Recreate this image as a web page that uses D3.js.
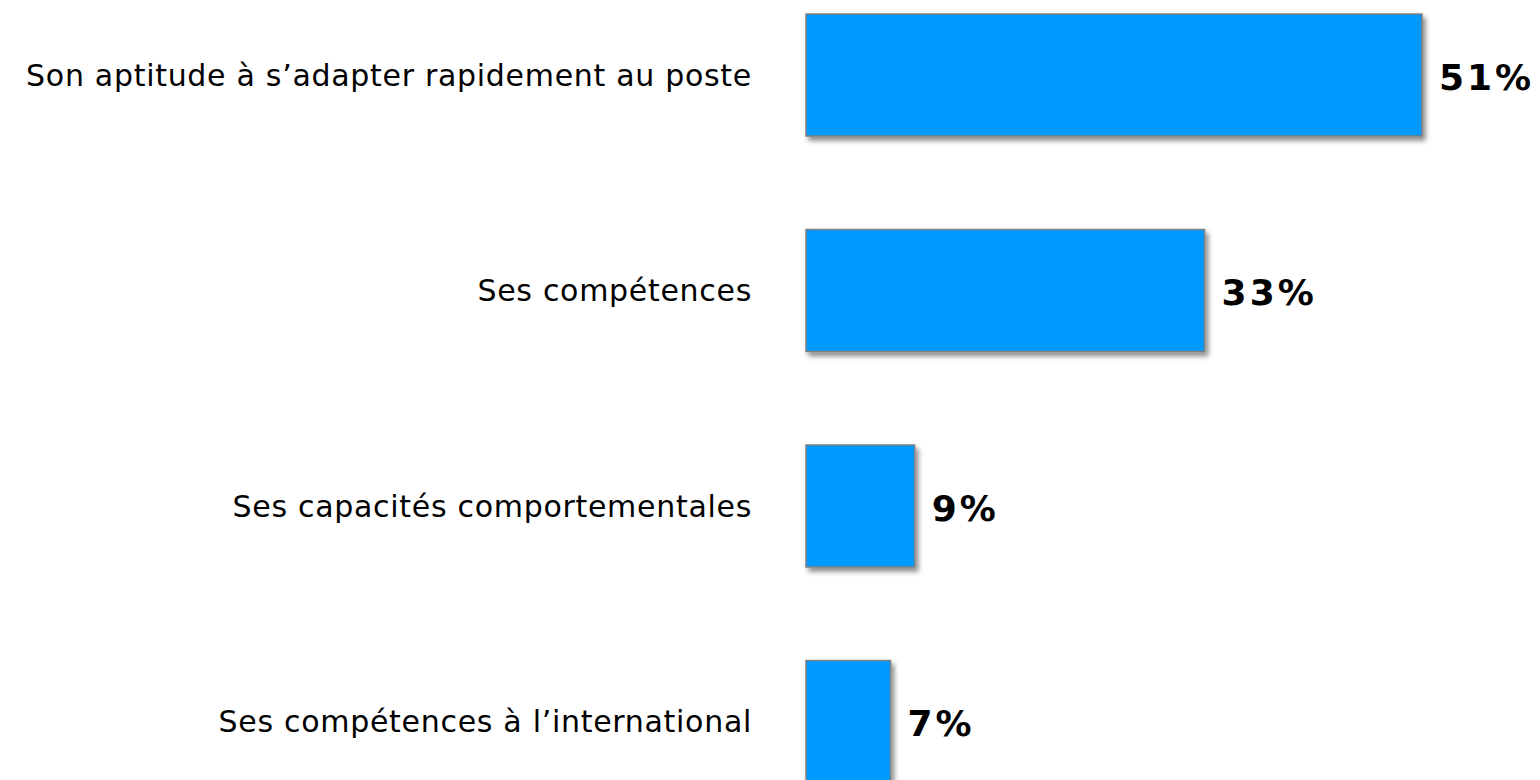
<!DOCTYPE html>
<html><head><meta charset="utf-8">
<script src="https://cdn.jsdelivr.net/npm/d3@7"></script>
<style>body{margin:0;background:#fff;}svg{display:block;}</style>
</head><body>
<svg id="c" width="1540" height="780"></svg>
<script>
const categories = ["Son aptitude à s’adapter rapidement au poste","Ses compétences","Ses capacités comportementales","Ses compétences à l’international"];
const values = [51, 33, 9, 7];
const valueLabels = ["51%","33%","9%","7%"];

const svg = d3.select("#c");
const defs = svg.append("defs");
const f = defs.append("filter").attr("id","sh").attr("x","-10%").attr("y","-10%").attr("width","130%").attr("height","140%");
f.append("feDropShadow").attr("dx",3).attr("dy",4).attr("stdDeviation",2.5).attr("flood-color","#000").attr("flood-opacity",0.45);

const x = d3.scaleLinear().domain([0, 51]).range([806, 1422]);
const step = 215.5;
const y = d3.scaleBand().domain(categories).range([14 - 46.75, 14 - 46.75 + 4*step]).paddingInner(0.434).paddingOuter(0.217);

const g = svg.append("g");
g.selectAll("rect").data(values).join("rect")
  .attr("x", x(0)).attr("y",(d,i)=>y(categories[i]))
  .attr("width", d=>x(d)-x(0)).attr("height", y.bandwidth())
  .attr("fill","#0099FF").attr("stroke","#808080").attr("stroke-width",1.5)
  .attr("filter","url(#sh)");

g.selectAll("text.cat").data(categories).join("text").attr("class","cat")
  .attr("x",752).attr("y",d=>y(d)+y.bandwidth()/2)
  .attr("dy","0.35em").attr("text-anchor","end")
  .attr("font-family","DejaVu Sans, Verdana, sans-serif").attr("font-size",30)
  .attr("letter-spacing",0.7)
  .attr("fill","#000").text(d=>d);

g.selectAll("text.val").data(values).join("text").attr("class","val")
  .attr("x",d=>x(d)+17).attr("y",(d,i)=>y(categories[i])+y.bandwidth()/2+2)
  .attr("dy","0.35em").attr("text-anchor","start")
  .attr("font-family","DejaVu Sans, Verdana, sans-serif").attr("font-weight","bold").attr("font-size",36)
  .attr("letter-spacing",3)
  .attr("fill","#000").text((d,i)=>valueLabels[i]);
</script>
</body></html>
